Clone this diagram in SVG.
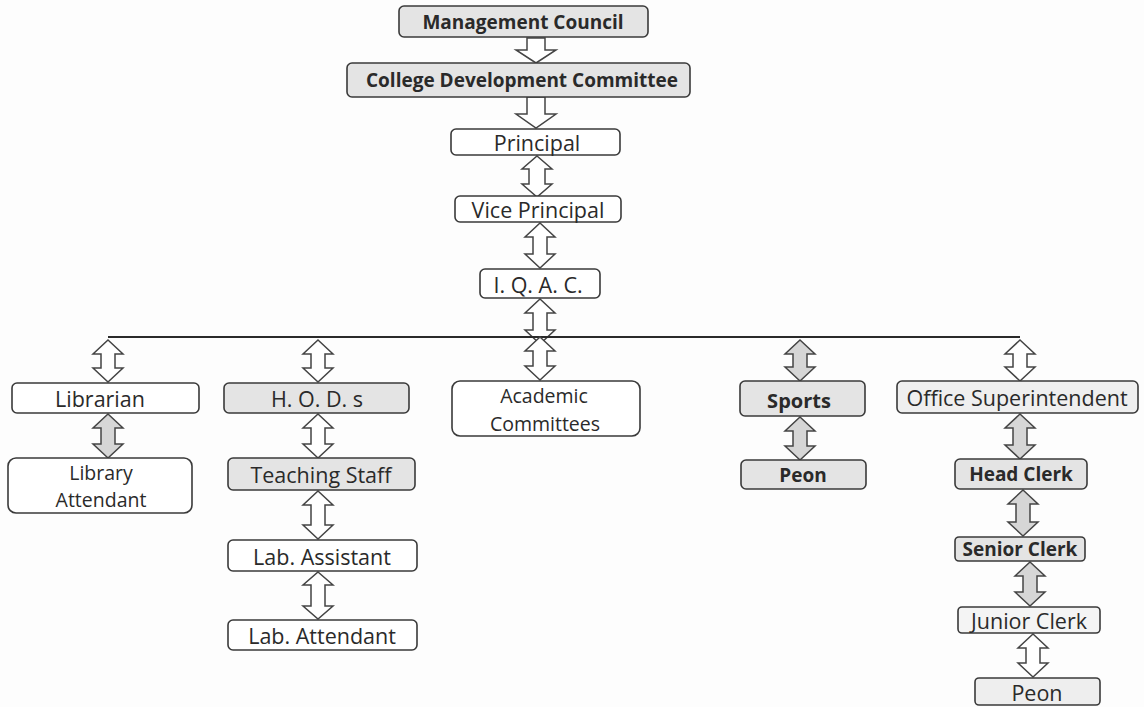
<svg xmlns="http://www.w3.org/2000/svg" width="1144" height="707" viewBox="0 0 1144 707">
<style>
.box{fill:#ffffff;stroke:#3a3a3a;stroke-width:1.6}
.gbox{fill:#e4e4e4;stroke:#3a3a3a;stroke-width:1.6}
.t{font-family:"Open Sans","Liberation Sans",sans-serif;font-size:21.5px;fill:#2a2a2a;text-anchor:middle;dominant-baseline:central}
.b{font-weight:bold;font-size:19px}
.s{font-size:19.5px}
.arr{fill:#ffffff;stroke:#444;stroke-width:1.5;stroke-linejoin:miter}
.garr{fill:#d6d6d6;stroke:#444;stroke-width:1.5}
.line{stroke:#2a2a2a;stroke-width:2;fill:none}
</style>
<rect width="1144" height="707" fill="#fdfdfd"/>
<g id="connectors">
<path class="arr" d="M527,38 L545,38 L545,50 L556,50 L536,63 L516,50 L527,50 Z"/>
<path class="arr" d="M527,97 L545,97 L545,114 L556,114 L536,128 L516,114 L527,114 Z"/>
<path class="arr" d="M537,156 L552,169 L545,169 L545,184 L552,184 L537,197 L522,184 L529,184 L529,169 L522,169 Z"/>
<path class="arr" d="M540,223 L555,237 L547,237 L547,254 L555,254 L540,268 L525,254 L533,254 L533,237 L525,237 Z"/>
<path class="arr" d="M540,299 L555,313 L547,313 L547,330 L555,330 L540,344 L525,330 L533,330 L533,313 L525,313 Z"/>
<line class="line" x1="108" y1="337" x2="1020" y2="337"/>
<path class="arr" d="M108,340 L123,354 L115,354 L115,368 L123,368 L108,382 L93,368 L101,368 L101,354 L93,354 Z"/>
<path class="arr" d="M318,340 L333,354 L325,354 L325,368 L333,368 L318,382 L303,368 L311,368 L311,354 L303,354 Z"/>
<path class="arr" d="M540,337 L555,351 L547,351 L547,366 L555,366 L540,380 L525,366 L533,366 L533,351 L525,351 Z"/>
<path class="garr" d="M800,340 L815,354 L807,354 L807,367 L815,367 L800,381 L785,367 L793,367 L793,354 L785,354 Z"/>
<path class="arr" d="M1020,340 L1035,354 L1027,354 L1027,367 L1035,367 L1020,381 L1005,367 L1013,367 L1013,354 L1005,354 Z"/>
<path class="garr" d="M108,414 L123,428 L115,428 L115,444 L123,444 L108,458 L93,444 L101,444 L101,428 L93,428 Z"/>
<path class="arr" d="M318,414 L333,428 L325,428 L325,444 L333,444 L318,458 L303,444 L311,444 L311,428 L303,428 Z"/>
<path class="arr" d="M318,491 L333,505 L325,505 L325,525 L333,525 L318,539 L303,525 L311,525 L311,505 L303,505 Z"/>
<path class="arr" d="M318,572 L333,585 L325,585 L325,606 L333,606 L318,619 L303,606 L311,606 L311,585 L303,585 Z"/>
<path class="garr" d="M800,417 L815,431 L807,431 L807,446 L815,446 L800,460 L785,446 L793,446 L793,431 L785,431 Z"/>
<path class="garr" d="M1020,414 L1035,428 L1027,428 L1027,445 L1035,445 L1020,459 L1005,445 L1013,445 L1013,428 L1005,428 Z"/>
<path class="garr" d="M1023,490 L1038,504 L1030,504 L1030,522 L1038,522 L1023,536 L1008,522 L1016,522 L1016,504 L1008,504 Z"/>
<path class="garr" d="M1030,562 L1045,576 L1037,576 L1037,592 L1045,592 L1030,606 L1015,592 L1023,592 L1023,576 L1015,576 Z"/>
<path class="arr" d="M1033,634 L1048,648 L1040,648 L1040,663 L1048,663 L1033,677 L1018,663 L1026,663 L1026,648 L1018,648 Z"/>
</g>
<g id="management-council"><rect class="gbox" x="399" y="6" width="249" height="31" rx="5"/><text class="t b" x="523" y="22">Management Council</text></g>
<g id="cdc"><rect class="gbox" x="347" y="63" width="343" height="34" rx="5"/><text class="t b" x="522" y="80">College Development Committee</text></g>
<g id="principal"><rect class="box" x="451" y="129" width="169" height="26" rx="5"/><text class="t" x="537" y="142">Principal</text></g>
<g id="vice-principal"><rect class="box" x="455" y="196" width="166" height="26" rx="5"/><text class="t" x="538" y="209">Vice Principal</text></g>
<g id="iqac"><rect class="box" x="480" y="269" width="120" height="29" rx="5"/><text class="t" x="538" y="284">I. Q. A. C.</text></g>
<g id="librarian"><rect class="box" x="12" y="383" width="187" height="30" rx="5"/><text class="t" x="100" y="398">Librarian</text></g>
<g id="library-attendant"><rect class="box" x="8" y="458" width="184" height="55" rx="8"/><text class="t s" x="101" y="472">Library</text><text class="t s" x="101" y="499">Attendant</text></g>
<g id="hods"><rect class="gbox" x="224" y="383" width="185" height="30" rx="5"/><text class="t" x="317" y="398">H. O. D. s</text></g>
<g id="teaching-staff"><rect class="gbox" x="228" y="458" width="187" height="32" rx="5"/><text class="t" x="321" y="474">Teaching Staff</text></g>
<g id="lab-assistant"><rect class="box" x="228" y="540" width="189" height="31" rx="5"/><text class="t" x="322" y="556">Lab. Assistant</text></g>
<g id="lab-attendant"><rect class="box" x="228" y="620" width="189" height="30" rx="5"/><text class="t" x="322" y="635">Lab. Attendant</text></g>
<g id="academic-committees"><rect class="box" x="452" y="381" width="188" height="55" rx="8"/><text class="t s" x="544" y="395">Academic</text><text class="t s" x="545" y="423">Committees</text></g>
<g id="sports"><rect class="gbox" x="740" y="381" width="125" height="35" rx="5"/><text class="t b" x="799" y="400" style="font-size:20px">Sports</text></g>
<g id="sports-peon"><rect class="gbox" x="741" y="460" width="125" height="29" rx="5"/><text class="t b" x="803" y="475">Peon</text></g>
<g id="office-superintendent"><rect class="gbox" x="897" y="381" width="241" height="32" rx="5" style="fill:#efefef"/><text class="t" x="1017" y="397">Office Superintendent</text></g>
<g id="head-clerk"><rect class="gbox" x="955" y="459" width="132" height="30" rx="5"/><text class="t b" x="1021" y="474">Head Clerk</text></g>
<g id="senior-clerk"><rect class="gbox" x="955" y="537" width="130" height="24" rx="4"/><text class="t b" x="1020" y="549">Senior Clerk</text></g>
<g id="junior-clerk"><rect class="box" x="958" y="607" width="142" height="26" rx="4" style="fill:#f4f4f4"/><text class="t" x="1029" y="620">Junior Clerk</text></g>
<g id="office-peon"><rect class="gbox" x="975" y="678" width="125" height="27" rx="4" style="fill:#eeeeee"/><text class="t" x="1037" y="692">Peon</text></g>
</svg>
